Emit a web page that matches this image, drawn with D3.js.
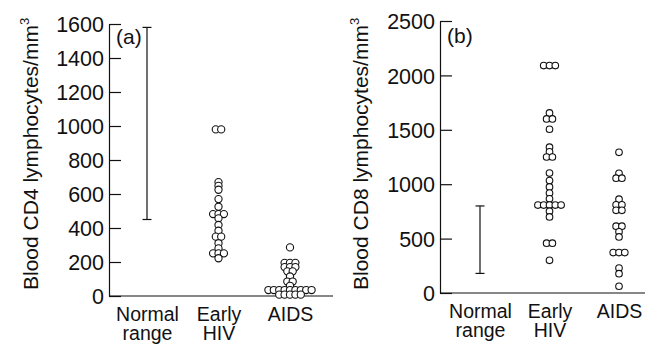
<!DOCTYPE html>
<html>
<head>
<meta charset="utf-8">
<script src="https://cdn.jsdelivr.net/npm/d3@7"></script>
<style>
  body { margin: 0; background: #fff; }
  svg text { font-family: "Liberation Sans", Arial, sans-serif; fill: #111; }
</style>
</head>
<body>
<div id="chart"></div>
<script>
// categories along the x axis
const categories = ["Normal range", "Early HIV", "AIDS"];

// panel (a): CD4 counts
const cd4Ticks = [0, 200, 400, 600, 800, 1000, 1200, 1400, 1600];
const cd4Normal = [450, 1580];
const cd4Early = [980, 980, 670, 648, 625, 570, 525, 482, 482, 482, 457, 418, 384,
  349, 349, 310, 280, 251, 251, 251, 222];
const cd4Aids = [286, 195, 195, 195, 170, 170, 170, 145, 145, 115, 85, 85, 60,
  35, 35, 35, 35, 35, 35, 35, 35, 35, 8, 8, 8, 8, 8];

// panel (b): CD8 counts
const cd8Ticks = [0, 500, 1000, 1500, 2000, 2500];
const cd8Normal = [180, 800];
const cd8Early = [2090, 2090, 2090, 1655, 1600, 1600, 1505, 1340, 1298, 1250, 1250,
  1102, 1033, 975, 919, 866, 808, 808, 808, 808, 808, 752, 699, 458, 458, 300];
const cd8Aids = [1293, 1100, 1055, 1055, 862, 810, 810, 760, 760, 614, 614, 562, 515,
  372, 372, 372, 230, 178, 62];

var svg = d3.select("#chart")
  .append("svg")
    .attr("width", 651)
    .attr("height", 344);

function drawPanel(opt) {
  var height = 272;
  var g = svg.append("g")
      .attr("transform", "translate(" + opt.left + "," + opt.top + ")");

  var y = d3.scaleLinear()
      .domain([0, opt.max])
      .range([height, 0]);
  var x = d3.scalePoint()
      .domain(categories)
      .range(opt.xRange);

  // y axis with inward ticks
  var yAxis = g.append("g")
      .call(d3.axisLeft(y)
        .tickValues(opt.ticks)
        .tickFormat(d3.format("d"))
        .tickSize(-12)
        .tickSizeOuter(0)
        .tickPadding(5));
  yAxis.selectAll("line, path").attr("stroke", "#111").attr("stroke-width", 1.2);
  yAxis.selectAll("text")
      .style("font-size", "21.5px")
      .attr("dy", "0.36em");

  // x axis line
  g.append("line")
      .attr("x1", 0).attr("x2", opt.width)
      .attr("y1", height).attr("y2", height)
      .attr("stroke", "#111").attr("stroke-width", 1.2);

  // category labels, two lines
  var xAxis = g.append("g")
      .attr("transform", "translate(0," + height + ")")
      .call(d3.axisBottom(x).tickSize(0).tickFormat(""));
  xAxis.select(".domain").remove();
  xAxis.selectAll(".tick").append("text")
      .style("font-size", "19.5px")
      .attr("text-anchor", "middle")
      .each(function(d) {
        var words = d.split(" ");
        var t = d3.select(this);
        words.forEach(function(w, i) {
          t.append("tspan").attr("x", 0).attr("y", 25 + i * 19).text(w);
        });
      });

  // panel letter
  g.append("text")
      .attr("x", 7)
      .attr("y", opt.letterY)
      .style("font-size", "21px")
      .text(opt.letter);

  // y title
  var title = g.append("text")
      .attr("transform", "translate(" + opt.titleX + "," + (opt.titleBottom - opt.top) + ") rotate(-90)")
      .style("font-size", "21px")
      .text(opt.title);
  title.append("tspan")
      .attr("dy", "-9")
      .style("font-size", "13px")
      .text("3");

  // normal range bar
  var xn = x(categories[0]);
  var cap = 4.5;
  g.append("line")
      .attr("x1", xn).attr("x2", xn)
      .attr("y1", y(opt.normal[0])).attr("y2", y(opt.normal[1]))
      .attr("stroke", "#111").attr("stroke-width", 1.2);
  g.selectAll(".cap")
      .data(opt.normal)
      .enter()
      .append("line")
        .attr("x1", xn - cap).attr("x2", xn + cap)
        .attr("y1", function(d) { return y(d); })
        .attr("y2", function(d) { return y(d); })
        .attr("stroke", "#111").attr("stroke-width", 1.2);

  // dot plots: equal values are laid out side by side in a centred row
  function layout(values, cat) {
    var groups = d3.group(values, function(d) { return d; });
    var pts = [];
    groups.forEach(function(arr, v) {
      var n = arr.length;
      arr.forEach(function(_, i) {
        pts.push({ v: v, dx: (i - (n - 1) / 2) * opt.spacing, cat: cat });
      });
    });
    return pts;
  }
  var points = layout(opt.early, categories[1]).concat(layout(opt.aids, categories[2]));
  g.selectAll(".dot")
      .data(points)
      .enter()
      .append("circle")
        .attr("cx", function(d) { return x(d.cat) + d.dx; })
        .attr("cy", function(d) { return y(d.v); })
        .attr("r", opt.r)
        .attr("fill", "#fff")
        .attr("stroke", "#111")
        .attr("stroke-width", 1.1);
}

drawPanel({
  left: 109, top: 24, width: 224, max: 1600, ticks: cd4Ticks,
  xRange: [38, 181], normal: cd4Normal, early: cd4Early, aids: cd4Aids,
  letter: "(a)", letterY: 20, title: "Blood CD4 lymphocytes/mm",
  titleX: -71, titleBottom: 290, r: 3.6, spacing: 5.4
});

drawPanel({
  left: 440, top: 21, width: 205, max: 2500, ticks: cd8Ticks,
  xRange: [40, 179], normal: cd8Normal, early: cd8Early, aids: cd8Aids,
  letter: "(b)", letterY: 22, title: "Blood CD8 lymphocytes/mm",
  titleX: -72, titleBottom: 290, r: 3.3, spacing: 5.8
});
</script>
</body>
</html>
